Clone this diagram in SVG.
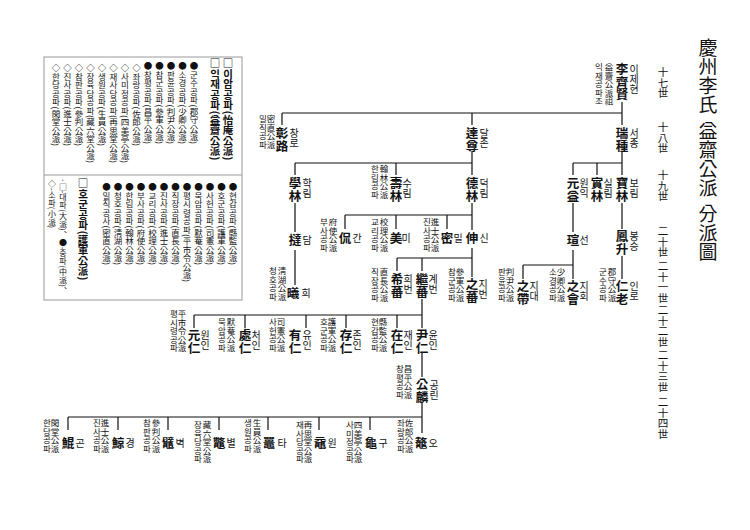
<svg xmlns="http://www.w3.org/2000/svg" width="750" height="530" viewBox="0 0 750 530">
<style>
text{font-family:"Noto Sans CJK KR","Noto Sans CJK SC",sans-serif;writing-mode:vertical-rl;fill:#111}
.t{font-size:19px}
.g{font-size:10.5px}
.n{font-size:12.5px;font-weight:bold}
.r{font-size:10px}
.l{font-size:8.5px}
.lb{font-size:10.5px;font-weight:bold}
.li{font-size:8.5px}
.ls{font-size:8px}
.c{stroke:#111;stroke-width:1.2;fill:none}
.box{fill:none;stroke:#999;stroke-width:1}
</style>
<rect width="750" height="530" fill="#fff"/>
<g id="title">
<text class="t" x="708" y="38">慶州李氏</text>
<text class="t" x="708" y="121">益齋公派</text>
<text class="t" x="708" y="204">分派圖</text>
</g>
<g id="generations">
<text class="g" x="663" y="67">十七世</text>
<text class="g" x="663" y="122">十八世</text>
<text class="g" x="663" y="170">十九世</text>
<text class="g" x="663" y="226">二十世</text>
<text class="g" x="663" y="261">二十一世</text>
<text class="g" x="663" y="305">二十二世</text>
<text class="g" x="663" y="350">二十三世</text>
<text class="g" x="663" y="397">二十四世</text>
</g>
<g id="legend">
<rect class="box" x="44" y="57" width="198" height="243"/>
<line class="box" x1="44" y1="175" x2="242" y2="175"/>
<text class="lb" x="228" y="58">□이암공파(怡庵公派)</text>
<text class="lb" x="215" y="58">□익재공파(益齋公派)</text>
<text class="li" x="194" y="62">●군수공파(郡守公派)</text>
<text class="li" x="182.5" y="62">●소경공파(少卿公派)</text>
<text class="li" x="171" y="62">●판윤공파(判尹公派)</text>
<text class="li" x="159.5" y="62">●참군공파(參軍公派)</text>
<text class="li" x="148" y="62">●창평공파(昌平公派)</text>
<text class="li" x="136.5" y="64">◇좌랑공파(佐郎公派)</text>
<text class="li" x="125" y="64">◇사미정공파(四美亭公派)</text>
<text class="li" x="113.5" y="64">◇재사당공파(再思堂公派)</text>
<text class="li" x="102" y="64">◇생원공파(生員公派)</text>
<text class="li" x="90.5" y="64">◇장육당공파(藏六堂公派)</text>
<text class="li" x="79" y="64">◇참판공파(參判公派)</text>
<text class="li" x="67.5" y="64">◇진사공파(進士公派)</text>
<text class="li" x="56" y="64">◇한당공파(閑堂公派)</text>
<text class="li" x="233" y="183">●현감공파(縣監公派)</text>
<text class="li" x="221.5" y="183">●호군공파(護軍公派)</text>
<text class="li" x="210" y="183">●사헌공파(司憲公派)</text>
<text class="li" x="198.5" y="183">●묵암공파(默菴公派)</text>
<text class="li" x="187" y="183">●평시령공파(平市令公派)</text>
<text class="li" x="175.5" y="183">●직장공파(直長公派)</text>
<text class="li" x="164" y="183">●진사공파(進士公派)</text>
<text class="li" x="152.5" y="183">●교리공파(校理公派)</text>
<text class="li" x="141" y="183">●부사공파(府使公派)</text>
<text class="li" x="129.5" y="183">●한림공파(翰林公派)</text>
<text class="li" x="118" y="183">●청호공파(淸湖公派)</text>
<text class="li" x="106.5" y="183">●밀직공사(密直公派)</text>
<text class="lb" x="83" y="178">□호군공파(護軍公派)</text>
<text class="ls" x="63" y="178">·□-대파(大派)、●-중파(中派)、</text>
<text class="ls" x="52" y="180">◇-소파(小派)</text>
</g>
<g id="connectors">
<path class="c" d="M622,102V125M282,113H622M282,113V125M472,113V125M622,151V175M573,163H622M573,163V175M597,163V175M472,151V175M295,163H472M295,163V175M396,163V175M295,203V232M472,203V230M345,215H472M345,215V229M396,215V229M447,215V229M573,203V232M622,203V229M295,250V285M472,248V277M397,258H472M397,258V271M422,258V271M573,250V279M523,265H573M523,265V279M622,256V279M422,299V328M194,315H422M194,315V328M245,315V328M306,315V328M346,315V328M397,315V328M422,352V377M422,402V433M68,417H422M68,417V430M118,417V430M168,417V430M219,417V430M268,417V430M319,417V430M370,417V430"/>
</g>
<g id="n-ijehyeon">
<text class="n" x="622" y="63">李齊賢</text><text class="r" x="634" y="64">이제현</text>
<text class="l" x="609" y="63">益齋公派祖</text><text class="l" x="599" y="63">익재공파조</text>
</g>
<g id="n-changno">
<text class="n" x="282" y="127">彰路</text><text class="r" x="294" y="128">창로</text>
<text class="l" x="271" y="115">密直公派</text><text class="l" x="263" y="115">밀직공파</text>
</g>
<g id="n-daljon"><text class="n" x="472" y="127">達尊</text><text class="r" x="484" y="128">달존</text></g>
<g id="n-seojong"><text class="n" x="622" y="127">瑞種</text><text class="r" x="634" y="128">서종</text></g>
<g id="n-hakrim"><text class="n" x="295" y="177">學林</text><text class="r" x="307" y="178">학림</text></g>
<g id="n-surim">
<text class="n" x="396" y="177">壽林</text><text class="r" x="407" y="178">수림</text>
<text class="l" x="384" y="165">翰林公派</text><text class="l" x="375" y="165">한림공파</text>
</g>
<g id="n-deokrim"><text class="n" x="472" y="177">德林</text><text class="r" x="484" y="178">덕림</text></g>
<g id="n-wonik"><text class="n" x="573" y="177">元益</text><text class="r" x="584" y="178">원익</text></g>
<g id="n-silrim"><text class="n" x="597" y="177">實林</text><text class="r" x="608" y="178">실림</text></g>
<g id="n-borim"><text class="n" x="622" y="177">寶林</text><text class="r" x="634" y="178">보림</text></g>
<g id="n-dam"><text class="n" x="295" y="234">撻</text><text class="r" x="307" y="235">담</text></g>
<g id="n-gan">
<text class="n" x="345" y="232">侃</text><text class="r" x="357" y="233">간</text>
<text class="l" x="333" y="218">府使公派</text><text class="l" x="324" y="218">부사공파</text>
</g>
<g id="n-mi">
<text class="n" x="396" y="232">美</text><text class="r" x="406" y="233">미</text>
<text class="l" x="384" y="218">校理公派</text><text class="l" x="375" y="218">교리공파</text>
</g>
<g id="n-mil">
<text class="n" x="447" y="232">密</text><text class="r" x="458" y="233">밀</text>
<text class="l" x="435" y="218">進士公派</text><text class="l" x="427" y="218">진사공파</text>
</g>
<g id="n-sin"><text class="n" x="472" y="232">伸</text><text class="r" x="484" y="233">신</text></g>
<g id="n-seon"><text class="n" x="573" y="234">瑄</text><text class="r" x="584" y="235">선</text></g>
<g id="n-bongseung"><text class="n" x="622" y="230">鳳升</text><text class="r" x="634" y="231">봉승</text></g>
<g id="n-hui">
<text class="n" x="293" y="287">曦</text><text class="r" x="306" y="288">희</text>
<text class="l" x="282" y="267">淸湖公派</text><text class="l" x="273" y="267">청호공파</text>
</g>
<g id="n-huibeon">
<text class="n" x="397" y="273">希蕃</text><text class="r" x="408" y="274">희번</text>
<text class="l" x="384" y="268">直長公派</text><text class="l" x="375" y="268">직장공파</text>
</g>
<g id="n-gyebeon"><text class="n" x="422" y="273">繼蕃</text><text class="r" x="433" y="274">계번</text></g>
<g id="n-jibeon">
<text class="n" x="472" y="278">之蕃</text><text class="r" x="483" y="279">지번</text>
<text class="l" x="460" y="268">參軍公派</text><text class="l" x="452" y="268">참군공파</text>
</g>
<g id="n-jidae">
<text class="n" x="523" y="280">之帶</text><text class="r" x="534" y="281">지대</text>
<text class="l" x="510" y="268">判尹公派</text><text class="l" x="502" y="268">판윤공파</text>
</g>
<g id="n-jihoe">
<text class="n" x="573" y="280">之會</text><text class="r" x="584" y="281">지회</text>
<text class="l" x="561" y="268">少卿公派</text><text class="l" x="553" y="268">소경공파</text>
</g>
<g id="n-inro">
<text class="n" x="622" y="280">仁老</text><text class="r" x="634" y="281">인로</text>
<text class="l" x="612" y="268">郡守公派</text><text class="l" x="603" y="268">군수공파</text>
</g>
<g id="n-wonin">
<text class="n" x="194" y="329">元仁</text><text class="r" x="205" y="330">원인</text>
<text class="l" x="182" y="310">平市令公派</text><text class="l" x="174" y="310">평시령공파</text>
</g>
<g id="n-cheoin">
<text class="n" x="245" y="329">處仁</text><text class="r" x="256" y="330">처인</text>
<text class="l" x="231" y="318">默菴公派</text><text class="l" x="222" y="318">묵암공파</text>
</g>
<g id="n-yuin">
<text class="n" x="295" y="329">有仁</text><text class="r" x="307" y="330">유인</text>
<text class="l" x="281" y="318">司憲公派</text><text class="l" x="273" y="318">사헌공파</text>
</g>
<g id="n-jonin">
<text class="n" x="346" y="329">存仁</text><text class="r" x="357" y="330">존인</text>
<text class="l" x="332" y="318">護軍公派</text><text class="l" x="324" y="318">호군공파</text>
</g>
<g id="n-jaein">
<text class="n" x="397" y="329">在仁</text><text class="r" x="408" y="330">재인</text>
<text class="l" x="383" y="318">縣監公派</text><text class="l" x="375" y="318">현감공파</text>
</g>
<g id="n-yunin"><text class="n" x="422" y="329">尹仁</text><text class="r" x="433" y="330">윤인</text></g>
<g id="n-gongrin">
<text class="n" x="422" y="378">公麟</text><text class="r" x="434" y="380">공린</text>
<text class="l" x="408" y="365">昌平公派</text><text class="l" x="400" y="365">창평공파</text>
</g>
<g id="n-gon">
<text class="n" x="68" y="437">鯤</text><text class="r" x="80" y="438">곤</text>
<text class="l" x="55" y="419">閑堂公派</text><text class="l" x="47" y="419">한당공파</text>
</g>
<g id="n-gyeong">
<text class="n" x="118" y="437">鯨</text><text class="r" x="130" y="438">경</text>
<text class="l" x="105" y="419">進士公派</text><text class="l" x="97" y="419">진사공파</text>
</g>
<g id="n-byeok">
<text class="n" x="168" y="437">鼊</text><text class="r" x="180" y="438">벽</text>
<text class="l" x="156" y="419">參判公派</text><text class="l" x="147" y="419">참판공파</text>
</g>
<g id="n-byeol">
<text class="n" x="219" y="437">鼈</text><text class="r" x="231" y="438">별</text>
<text class="l" x="207" y="421">藏六堂公派</text><text class="l" x="198" y="421">장육당공파</text>
</g>
<g id="n-ta">
<text class="n" x="269" y="437">鼉</text><text class="r" x="282" y="438">타</text>
<text class="l" x="257" y="419">生員公派</text><text class="l" x="248" y="419">생원공파</text>
</g>
<g id="n-won">
<text class="n" x="320" y="437">黿</text><text class="r" x="332" y="438">원</text>
<text class="l" x="308" y="421">再思堂公派</text><text class="l" x="300" y="421">재사당공파</text>
</g>
<g id="n-gu">
<text class="n" x="371" y="437">龜</text><text class="r" x="383" y="438">구</text>
<text class="l" x="358" y="421">四美亭公派</text><text class="l" x="350" y="421">사미정공파</text>
</g>
<g id="n-o">
<text class="n" x="421" y="437">鼇</text><text class="r" x="433" y="438">오</text>
<text class="l" x="409" y="419">佐郎公派</text><text class="l" x="401" y="419">좌랑공파</text>
</g>
</svg>
